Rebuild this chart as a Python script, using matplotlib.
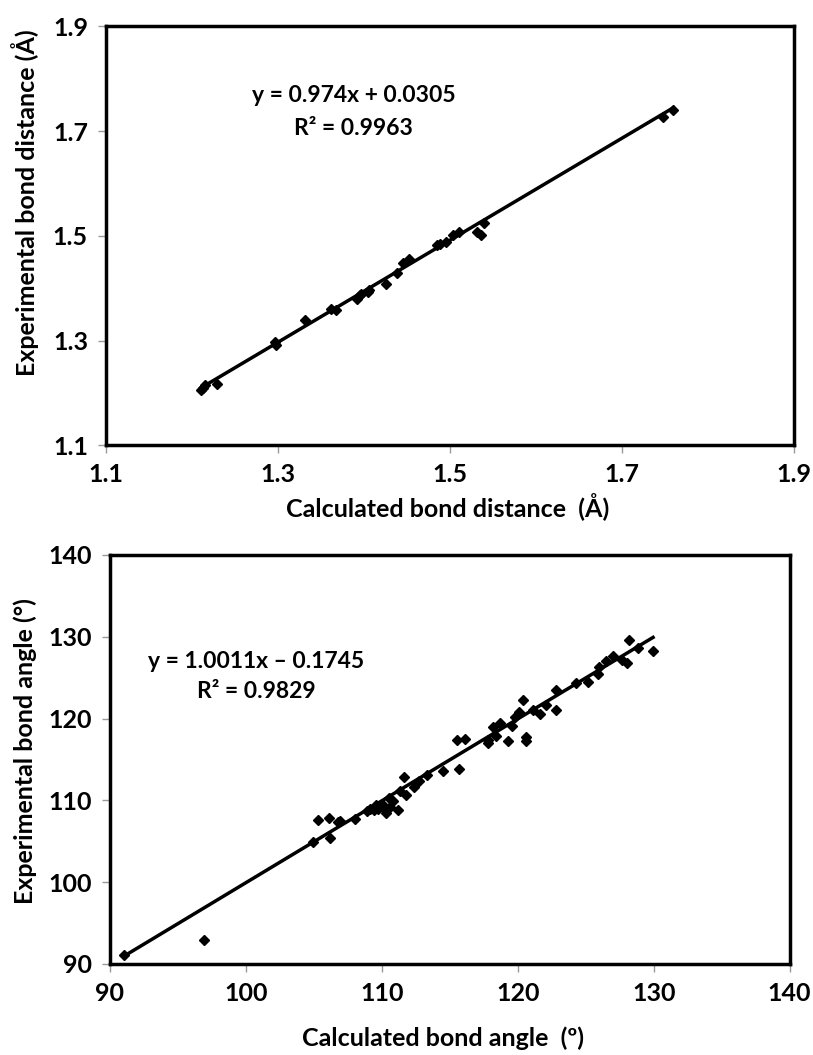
import numpy as np
import matplotlib
matplotlib.use("Agg")
import matplotlib.pyplot as plt

plt.rcParams['font.family'] = ['Lato', 'DejaVu Sans']
plt.rcParams['font.weight'] = 'bold'

# bond distances (Angstrom)
calc_dist = [1.211, 1.213, 1.215, 1.229, 1.296, 1.298, 1.331, 1.362, 1.368, 1.392, 1.395,
             1.397, 1.405, 1.406, 1.426, 1.438, 1.445, 1.452, 1.485, 1.488, 1.496,
             1.504, 1.510, 1.531, 1.536, 1.540, 1.748, 1.760]
exp_dist = [1.205, 1.210, 1.215, 1.216, 1.297, 1.291, 1.340, 1.361, 1.359, 1.380, 1.386,
            1.389, 1.393, 1.396, 1.407, 1.429, 1.448, 1.456, 1.482, 1.485, 1.488,
            1.501, 1.507, 1.507, 1.502, 1.524, 1.727, 1.740]
dist_fit = (0.974, 0.0305)
dist_ticks = [1.1, 1.3, 1.5, 1.7, 1.9]

# bond angles (degrees)
calc_ang = [91.0, 96.9, 104.95, 106.2, 105.3, 106.1, 106.8, 106.9, 108.0, 108.9, 109.1,
            109.4, 109.7, 109.9, 110.2, 110.3, 110.5, 110.6, 110.0, 109.6, 110.8,
            111.2, 111.3, 111.8, 111.6, 112.4, 112.7, 113.3, 114.5, 115.7, 115.5,
            116.1, 117.8, 117.8, 118.2, 118.4, 118.7, 119.3, 119.6, 119.8, 120.1,
            120.4, 120.6, 120.6, 121.1, 121.6, 122.1, 122.8, 122.8, 124.3, 125.2,
            125.9, 126.0, 126.5, 127.0, 127.7, 128.0, 128.2, 128.85, 129.95]
exp_ang = [91.1, 92.9, 104.9, 105.4, 107.6, 107.8, 107.3, 107.5, 107.7, 108.7, 109.0,
           108.8, 109.0, 109.3, 108.9, 108.5, 110.3, 109.2, 109.6, 109.4, 109.9,
           108.8, 111.1, 110.6, 112.9, 111.6, 112.4, 113.1, 113.6, 113.8, 117.4,
           117.5, 117.4, 117.0, 119.0, 117.9, 119.4, 117.3, 119.1, 120.2, 120.8,
           122.3, 117.8, 117.2, 121.0, 120.6, 121.7, 123.5, 121.1, 124.3, 124.5,
           125.4, 126.3, 127.0, 127.6, 127.2, 126.8, 129.6, 128.6, 128.3]
ang_fit = (1.0011, -0.1745)
ang_ticks = [90, 100, 110, 120, 130, 140]

fig = plt.figure(figsize=(8.13, 10.55), dpi=100)
ax1 = fig.add_axes([0.1304, 0.578, 0.846, 0.397])
ax2 = fig.add_axes([0.1353, 0.0863, 0.836, 0.3877])


def style(ax, ticks, fmt):
    ax.set_xlim(ticks[0], ticks[-1])
    ax.set_ylim(ticks[0], ticks[-1])
    ax.set_xticks(ticks)
    ax.set_yticks(ticks)
    ax.set_xticklabels([fmt.format(t) for t in ticks])
    ax.set_yticklabels([fmt.format(t) for t in ticks])
    for s in ax.spines.values():
        s.set_linewidth(2.5)
        s.set_color('black')
    ax.tick_params(direction='out', length=6, width=1, color='#999999',
                   labelsize=18, pad=7)


for ax, cx, ey, fit, ticks, fmt in [(ax1, calc_dist, exp_dist, dist_fit, dist_ticks, '{:.1f}'),
                                   (ax2, calc_ang, exp_ang, ang_fit, ang_ticks, '{:d}')]:
    ax.plot(cx, ey, 'D', color='black', markersize=5, zorder=3)
    xs = np.array([min(cx), max(cx)])
    ax.plot(xs, fit[0] * xs + fit[1], color='black', lw=2.5, zorder=2)
    style(ax, ticks, fmt)

ax1.text(0.36, 0.835, 'y = 0.974x + 0.0305', transform=ax1.transAxes,
         ha='center', va='center', fontsize=16.5, fontweight='bold')
ax1.text(0.36, 0.755, 'R² = 0.9963', transform=ax1.transAxes,
         ha='center', va='center', fontsize=16.5, fontweight='bold')
ax2.text(0.215, 0.74, 'y = 1.0011x – 0.1745', transform=ax2.transAxes,
         ha='center', va='center', fontsize=16.5, fontweight='bold')
ax2.text(0.215, 0.665, 'R² = 0.9829', transform=ax2.transAxes,
         ha='center', va='center', fontsize=16.5, fontweight='bold')

ax1.set_xlabel('Calculated bond distance  (Å)', fontsize=18, fontweight='bold', va='center')
ax1.set_ylabel('Experimental bond distance (Å)', fontsize=18, fontweight='bold', va='center')
ax2.set_xlabel('Calculated bond angle  (º)', fontsize=18, fontweight='bold', va='center')
ax2.set_ylabel('Experimental bond angle (°)', fontsize=18, fontweight='bold', va='center')
ax1.xaxis.set_label_coords(0.497, -0.148)
ax1.yaxis.set_label_coords(-0.118, 0.58)
ax2.xaxis.set_label_coords(0.49, -0.182)
ax2.yaxis.set_label_coords(-0.125, 0.52)

fig.savefig('out.png', dpi=100)
